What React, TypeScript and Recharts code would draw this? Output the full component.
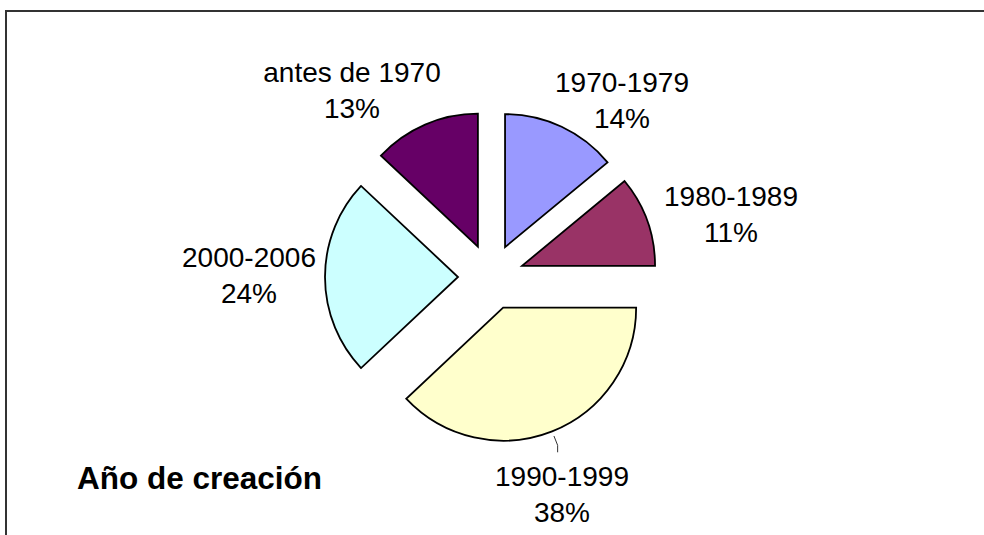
import { PieChart, Pie, Cell, Sector } from "recharts"

const CATEGORIES = ["1970-1979", "1980-1989", "1990-1999", "2000-2006", "antes de 1970"]
const SHARES = [14, 11, 38, 24, 13] // %
const COLORS = ["#9999ff", "#993366", "#ffffcc", "#ccffff", "#660066"]

const data = CATEGORIES.map((name, i) => ({ name, value: SHARES[i] }))

const CX = 491
const CY = 277
const R = 133
const EXPLODE = 33
const RAD = Math.PI / 180
const FONT = "'Liberation Sans', Arial, sans-serif"

// where each label sits: centre x and first baseline, relative to the pie centre
const LABEL_AT: Record<string, { dx: number; dy: number; leader?: boolean }> = {
  "1970-1979": { dx: 131, dy: -185 },
  "1980-1989": { dx: 240, dy: -71 },
  "1990-1999": { dx: 71, dy: 209, leader: true },
  "2000-2006": { dx: -242, dy: -10 },
  "antes de 1970": { dx: -139, dy: -195 },
}

function offset(midAngle: number, r: number) {
  return { x: r * Math.cos(-midAngle * RAD), y: r * Math.sin(-midAngle * RAD) }
}

function ExplodedSector(props: any) {
  const { cx, cy, midAngle } = props
  const o = offset(midAngle, EXPLODE)
  return <Sector {...props} cx={cx + o.x} cy={cy + o.y} />
}

function renderLabel(props: any) {
  const { cx, cy, midAngle, outerRadius, name, value } = props
  const at = LABEL_AT[name]
  if (!at) return null
  const x = cx + at.dx
  const y = cy + at.dy
  let leader = null
  if (at.leader) {
    const c = offset(midAngle, EXPLODE)
    const p0 = offset(midAngle, outerRadius + 5)
    const p1 = offset(midAngle, outerRadius + 15)
    const x0 = cx + c.x + p0.x
    const y0 = cy + c.y + p0.y
    const x1 = cx + c.x + p1.x
    const y1 = cy + c.y + p1.y
    leader = (
      <polyline
        points={`${x0},${y0} ${x1},${y1} ${x1},${y1 + 7}`}
        fill="none"
        stroke="#333"
        strokeWidth={1}
      />
    )
  }
  return (
    <g>
      {leader}
      <text x={x} y={y} textAnchor="middle" fontFamily={FONT} fontSize={28} fill="#000">
        <tspan x={x} y={y}>{name}</tspan>
        <tspan x={x} y={y + 36}>{`${value}%`}</tspan>
      </text>
    </g>
  )
}

export default function App() {
  return (
    <div style={{ position: "absolute", left: 0, top: 0, width: 984, height: 535, background: "#fff" }}>
      <div
        style={{
          position: "absolute",
          left: 5,
          top: 10,
          right: 0,
          bottom: 0,
          borderTop: "2px solid #333",
          borderLeft: "2px solid #333",
        }}
      />
      <div style={{ position: "absolute", left: 0, top: 0 }}>
        <PieChart width={984} height={535} margin={{ top: 0, right: 0, bottom: 0, left: 0 }}>
          <Pie
            data={data}
            dataKey="value"
            nameKey="name"
            cx={CX}
            cy={CY}
            outerRadius={R}
            startAngle={90}
            endAngle={-270}
            stroke="#000"
            strokeWidth={1.8}
            shape={ExplodedSector}
            label={renderLabel}
            labelLine={false}
            isAnimationActive={false}
          >
            {data.map((d, i) => (
              <Cell key={d.name} fill={COLORS[i]} />
            ))}
          </Pie>
          <text x={77} y={489} fontFamily={FONT} fontSize={31.5} fontWeight="bold" fill="#000">
            Año de creación
          </text>
        </PieChart>
      </div>
    </div>
  )
}
